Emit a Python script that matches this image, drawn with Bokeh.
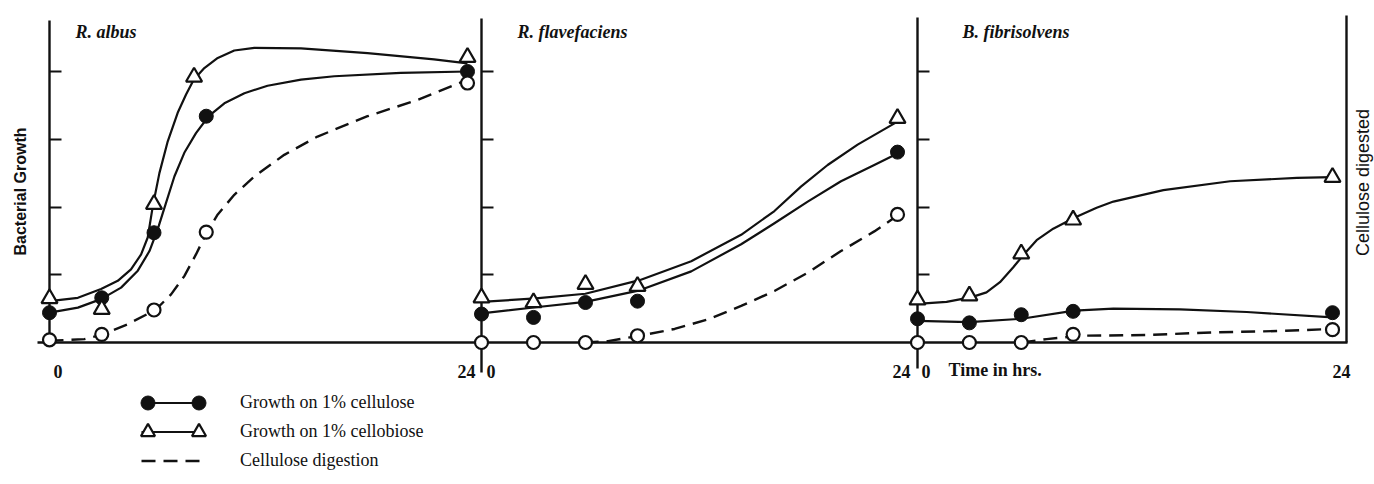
import math
from bokeh.plotting import figure
from bokeh.models import Range1d, LinearAxis, FixedTicker, Label, Legend, LegendItem
from bokeh.embed import file_html
from bokeh.resources import INLINE
from bokeh.core.properties import value

# ------------------------------------------------------------------ data
panel_titles = ["R. albus", "R. flavefaciens", "B. fibrisolvens"]
growth_ticks = [1, 2, 3, 4]
time_ticks = [0, 24]
time_tick_labels = ["0", "24"]

# measured points (hours, growth units)
albus_hours = [0, 3, 6, 9, 24]
albus_cellobiose_hours = [0, 3, 6, 8.3, 24]
albus_cellulose = [0.44, 0.66, 1.62, 3.34, 4.00]
albus_cellobiose = [0.65, 0.49, 2.04, 3.92, 4.21]
albus_digestion = [0.04, 0.12, 0.48, 1.63, 3.83]

flav_hours = [0, 3, 6, 9, 24]
flav_cellulose = [0.42, 0.37, 0.59, 0.61, 2.81]
flav_cellobiose = [0.66, 0.59, 0.86, 0.83, 3.31]
flav_digestion = [0.0, 0.0, 0.0, 0.10, 1.89]

fibr_hours = [0, 3, 6, 9, 24]
fibr_cellulose = [0.35, 0.29, 0.41, 0.46, 0.44]
fibr_cellobiose = [0.63, 0.69, 1.31, 1.81, 2.44]
fibr_digestion = [0.0, 0.0, 0.0, 0.12, 0.19]

# hand-drawn curves
albus_cellobiose_curve_t = [0, 1.63, 2.96, 3.92, 4.68, 5.26, 5.64, 5.93, 6.31, 6.79, 7.36, 7.84,
                            8.28, 8.89, 9.66, 10.61, 11.76, 14.44, 18.26, 22.08, 24.0]
albus_cellobiose_curve_y = [0.61, 0.66, 0.79, 0.91, 1.08, 1.30, 1.55, 2.01, 2.50, 2.97, 3.39, 3.66,
                            3.88, 4.05, 4.20, 4.31, 4.35, 4.34, 4.27, 4.18, 4.12]
albus_cellulose_curve_t = [0, 1.63, 2.96, 4.11, 5.07, 5.74, 6.21, 6.69, 7.17, 7.74, 8.41, 9.14,
                           10.04, 11.19, 12.52, 14.44, 16.35, 20.17, 24.0]
albus_cellulose_curve_y = [0.44, 0.515, 0.64, 0.81, 1.06, 1.35, 1.67, 2.06, 2.45, 2.80, 3.09, 3.34,
                           3.53, 3.68, 3.79, 3.88, 3.93, 3.98, 4.00]
albus_digestion_curve_t = [0, 2.0, 2.96, 4.49, 6.08, 6.98, 7.74, 8.41, 9.02, 9.66, 10.61, 11.76,
                           13.48, 15.39, 18.26, 21.13, 24.0]
albus_digestion_curve_y = [0.025, 0.05, 0.11, 0.27, 0.48, 0.71, 0.98, 1.30, 1.62, 1.89, 2.18, 2.45,
                           2.77, 3.04, 3.34, 3.58, 3.88]

flav_cellobiose_curve_t = [0, 3.13, 5.99, 9.12, 12.1, 14.98, 16.9, 18.43, 19.97, 21.7, 24.0]
flav_cellobiose_curve_y = [0.60, 0.65, 0.72, 0.92, 1.20, 1.59, 1.94, 2.30, 2.62, 2.92, 3.26]
flav_cellulose_curve_t = [0, 3.13, 5.99, 9.12, 12.1, 14.98, 16.9, 18.82, 20.74, 22.66, 24.0]
flav_cellulose_curve_y = [0.43, 0.52, 0.60, 0.77, 1.05, 1.45, 1.76, 2.08, 2.38, 2.62, 2.79]
flav_digestion_curve_t = [5.95, 7.3, 9.12, 11.14, 13.06, 14.98, 16.9, 18.82, 20.74, 22.66, 23.81]
flav_digestion_curve_y = [0.0, 0.02, 0.10, 0.20, 0.34, 0.54, 0.76, 1.03, 1.35, 1.64, 1.84]

fibr_cellobiose_curve_t = [0, 1.68, 3.13, 3.99, 4.77, 5.54, 6.12, 6.89, 7.85, 9.07, 10.36, 11.33,
                           14.22, 18.08, 21.94, 24.0]
fibr_cellobiose_curve_y = [0.57, 0.60, 0.67, 0.74, 0.89, 1.11, 1.29, 1.51, 1.68, 1.84, 1.99, 2.08,
                           2.25, 2.38, 2.43, 2.44]
fibr_cellulose_curve_t = [0, 2.99, 6.02, 9.07, 11.33, 15.18, 19.04, 24.0]
fibr_cellulose_curve_y = [0.32, 0.30, 0.35, 0.47, 0.50, 0.49, 0.45, 0.37]
fibr_digestion_curve_t = [6.02, 7.47, 9.4, 13.25, 17.11, 20.97, 24.0]
fibr_digestion_curve_y = [0.0, 0.05, 0.10, 0.11, 0.15, 0.17, 0.20]

# ------------------------------------------------------------------ layout
W, H = 1374, 484
ORIGIN_PX = [49, 481, 917]      # page px of hour 0 in each panel
HOUR24_PX = [467, 897, 1332]    # page px of hour 24 in each panel
BASE_PX = 342.0                 # page px of growth 0
UNIT_PX = 67.75                 # px per growth unit
RANGE_NAMES = ["default", "p2", "p3"]
INK = "#111111"
SERIF = "Liberation Serif"
SANS = "Liberation Sans"


def ppx(k):
    return (HOUR24_PX[k] - ORIGIN_PX[k]) / 24.0


def hx(k, px):
    return (px - ORIGIN_PX[k]) / ppx(k)


def vy(py):
    return (BASE_PX - py) / UNIT_PX


x_ranges = [Range1d(hx(k, 0), hx(k, W)) for k in range(3)]
y_range = Range1d(vy(H), vy(0))

p = figure(width=W, height=H, x_range=x_ranges[0], y_range=y_range,
           x_axis_type=None, y_axis_type=None, toolbar_location=None,
           output_backend="svg", min_border=0)
p.extra_x_ranges = {"p2": x_ranges[1], "p3": x_ranges[2]}
p.outline_line_color = None
p.background_fill_color = "white"
p.border_fill_color = "white"

# ---------------- axes
axis_top_px = [20, 18, 17]
axis_bottom_px = [342, 372, 368]
for k in range(3):
    ax = LinearAxis(x_range_name=RANGE_NAMES[k], fixed_location=0,
                    ticker=FixedTicker(ticks=growth_ticks),
                    bounds=(vy(axis_bottom_px[k]), vy(axis_top_px[k])),
                    major_tick_in=12, major_tick_out=0,
                    major_tick_line_width=2.2, major_tick_line_color=INK,
                    minor_tick_line_color=None, major_label_text_color=None,
                    axis_line_width=2.4, axis_line_color=INK)
    p.add_layout(ax, "left")

base_axis = LinearAxis(fixed_location=0, ticker=FixedTicker(ticks=[]),
                       bounds=(hx(0, 37), hx(0, 1347)),
                       major_tick_line_color=None, minor_tick_line_color=None,
                       major_label_text_color=None,
                       axis_line_width=2.4, axis_line_color=INK)
p.add_layout(base_axis, "below")

right_axis = LinearAxis(x_range_name="p3", fixed_location=hx(2, 1346),
                        ticker=FixedTicker(ticks=[]), bounds=(0, vy(15)),
                        major_tick_line_color=None, minor_tick_line_color=None,
                        major_label_text_color=None,
                        axis_line_width=2.4, axis_line_color=INK)
p.add_layout(right_axis, "right")

# ---------------- curves and marks
panels = [
    dict(hours=albus_hours, cb_hours=albus_cellobiose_hours, cel=albus_cellulose,
         cb=albus_cellobiose, dig=albus_digestion,
         cb_curve=(albus_cellobiose_curve_t, albus_cellobiose_curve_y),
         cel_curve=(albus_cellulose_curve_t, albus_cellulose_curve_y),
         dig_curve=(albus_digestion_curve_t, albus_digestion_curve_y)),
    dict(hours=flav_hours, cb_hours=flav_hours, cel=flav_cellulose,
         cb=flav_cellobiose, dig=flav_digestion,
         cb_curve=(flav_cellobiose_curve_t, flav_cellobiose_curve_y),
         cel_curve=(flav_cellulose_curve_t, flav_cellulose_curve_y),
         dig_curve=(flav_digestion_curve_t, flav_digestion_curve_y)),
    dict(hours=fibr_hours, cb_hours=fibr_hours, cel=fibr_cellulose,
         cb=fibr_cellobiose, dig=fibr_digestion,
         cb_curve=(fibr_cellobiose_curve_t, fibr_cellobiose_curve_y),
         cel_curve=(fibr_cellulose_curve_t, fibr_cellulose_curve_y),
         dig_curve=(fibr_digestion_curve_t, fibr_digestion_curve_y)),
]

legend_renderers = {}
for k, pn in enumerate(panels):
    rn = RANGE_NAMES[k]
    l_cb = p.line(pn["cb_curve"][0], pn["cb_curve"][1], x_range_name=rn,
                  line_color=INK, line_width=2.2, line_join="round")
    l_cel = p.line(pn["cel_curve"][0], pn["cel_curve"][1], x_range_name=rn,
                   line_color=INK, line_width=2.2, line_join="round")
    l_dig = p.line(pn["dig_curve"][0], pn["dig_curve"][1], x_range_name=rn,
                   line_color=INK, line_width=2.4, line_dash="14 8")
    m_cel = p.scatter(pn["hours"], pn["cel"], x_range_name=rn, marker="circle",
                      size=14, fill_color=INK, line_color=INK, line_width=1,
                      level="annotation")
    m_cb = p.scatter(pn["cb_hours"], pn["cb"], x_range_name=rn, marker="triangle",
                     size=16, fill_color="white", line_color=INK, line_width=2.2,
                     level="annotation")
    m_dig = p.scatter(pn["hours"], pn["dig"], x_range_name=rn, marker="circle",
                      size=13, fill_color="white", line_color=INK, line_width=2.2,
                      level="annotation")
    if k == 0:
        legend_renderers = dict(l_cb=l_cb, l_cel=l_cel, l_dig=l_dig,
                                m_cel=m_cel, m_cb=m_cb)

# ---------------- tick labels (time)
zero_dx = [4, 5, 4]
end_dx = [-1, 4, 9]
for k in range(3):
    rn = RANGE_NAMES[k]
    p.text(x=[time_ticks[0]], y=[0], text=[time_tick_labels[0]], x_range_name=rn,
           text_align="left", text_baseline="alphabetic", x_offset=zero_dx[k], y_offset=29,
           text_font=value(SERIF), text_font_size="18px", text_font_style="bold",
           text_color=INK)
    p.text(x=[time_ticks[1]], y=[0], text=[time_tick_labels[1]], x_range_name=rn,
           text_align="center", text_baseline="alphabetic", x_offset=end_dx[k], y_offset=29,
           text_font=value(SERIF), text_font_size="18px", text_font_style="bold",
           text_color=INK)

p.add_layout(Label(x=hx(2, 948), y=vy(369), x_range_name="p3", text="Time in hrs.",
                   text_align="left", text_baseline="alphabetic", text_font=SERIF,
                   text_font_size="18px", text_font_style="bold", text_color=INK))

# ---------------- panel titles
title_left_px = [75, 517, 962]
for k in range(3):
    p.add_layout(Label(x=hx(k, title_left_px[k]), y=vy(31), x_range_name=RANGE_NAMES[k],
                       text=panel_titles[k], text_align="left", text_baseline="middle",
                       text_font=SERIF, text_font_style="bold italic",
                       text_font_size="18px", text_color=INK))

# ---------------- axis titles
p.add_layout(Label(x=hx(0, 20), y=vy(191), text="Bacterial Growth", angle=math.pi / 2,
                   text_align="center", text_baseline="middle", text_font=SANS,
                   text_font_style="bold", text_font_size="16px", text_color=INK))
p.add_layout(Label(x=hx(2, 1362), y=vy(182), x_range_name="p3", text="Cellulose digested",
                   angle=math.pi / 2, text_align="center", text_baseline="middle",
                   text_font=SANS, text_font_size="18px", text_color=INK))

# ---------------- legend
ROW1 = 402.0
ROW_PITCH = 29.0
main_legend = Legend(
    items=[LegendItem(label="Growth on 1% cellulose", renderers=[legend_renderers["l_cel"]]),
           LegendItem(label="Growth on 1% cellobiose", renderers=[legend_renderers["l_cb"]]),
           LegendItem(label="Cellulose digestion", renderers=[legend_renderers["l_dig"]])],
    location=(141, H - (ROW1 - ROW_PITCH / 2 + 3 * ROW_PITCH)),
    glyph_width=60, glyph_height=int(ROW_PITCH), spacing=0, label_standoff=39,
    label_height=20, padding=0, margin=0, border_line_color=None,
    background_fill_color=None, background_fill_alpha=0,
    label_text_font=SERIF, label_text_font_size="18px", label_text_color=INK)
p.add_layout(main_legend)

marker_rows = [legend_renderers["m_cel"], legend_renderers["m_cb"]]
for r, rend in enumerate(marker_rows):
    row_center = ROW1 + r * ROW_PITCH
    for cx in (147, 198):
        mk = Legend(
            items=[LegendItem(label="", renderers=[rend])],
            location=(cx - 17.5, H - (row_center + 17.5)),
            glyph_width=35, glyph_height=35, spacing=0, label_standoff=0,
            label_height=0, label_width=0, padding=0, margin=0, border_line_color=None,
            background_fill_color=None, background_fill_alpha=0,
            label_text_font_size="1px")
        p.add_layout(mk)

open("out.html", "w").write(file_html(p, INLINE))
